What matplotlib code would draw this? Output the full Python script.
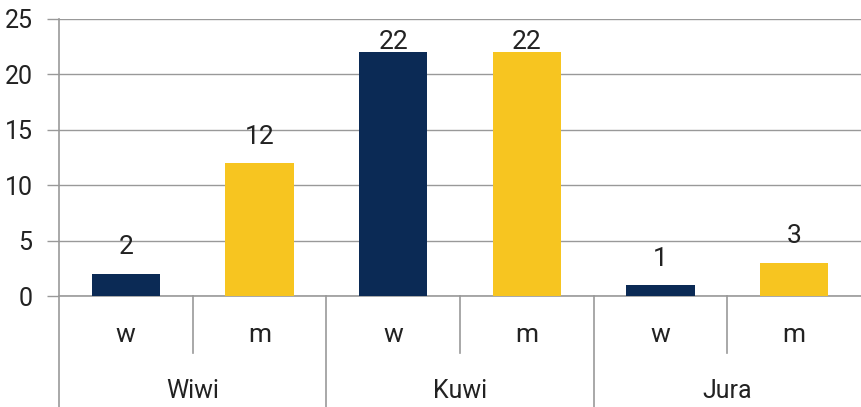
import matplotlib
matplotlib.use("Agg")
import matplotlib.pyplot as plt
from matplotlib.lines import Line2D

groups = ["Wiwi", "Kuwi", "Jura"]
subcats = ["w", "m"]
values = [2, 12, 22, 22, 1, 3]
colors_sub = {"w": "#0b2a55", "m": "#f7c520"}
yticks = [0, 5, 10, 15, 20, 25]

plt.rcParams['font.family'] = ["Roboto", "DejaVu Sans"]
txt = "#222222"
gridc = "#999999"

fig = plt.figure(figsize=(8.61, 4.07), dpi=100)
L, R, B, T = 59/861, 1.0, (407-296)/407, (407-19)/407
ax = fig.add_axes([L, B, R-L, T-B])

n = len(values)
xs = list(range(n))
cols = [colors_sub[subcats[i % 2]] for i in range(n)]
ax.bar(xs, values, width=0.51, color=cols, zorder=3)
for x, v in zip(xs, values):
    ax.text(x, min(v + 1.75, 22.3), str(v), ha="center", va="baseline",
            fontsize=19, color=txt, zorder=4)

ax.set_xlim(-0.5, n - 0.5)
ax.set_ylim(0, 25)
ax.set_yticks(yticks)
ax.set_yticklabels([str(t) for t in yticks], fontsize=18, color=txt)
ax.tick_params(axis="y", length=9, width=1, color=gridc, pad=10)
ax.yaxis.grid(True, color=gridc, linewidth=1, zorder=0)
ax.set_xticks([])
for s in ["top", "right", "left"]:
    ax.spines[s].set_visible(False)
ax.spines["bottom"].set_color(gridc)
ax.spines["bottom"].set_linewidth(1.2)

def fx(xd):
    return fig.transFigure.inverted().transform(ax.transData.transform((xd, 0)))[0]

fig.add_artist(Line2D([L, L], [0, T], color=gridc, linewidth=1.2))
for i in range(n):
    fig.text(fx(i), (407-335)/407, subcats[i % 2], ha="center", va="center",
             fontsize=19, color=txt)
for g in range(len(groups)):
    xc = fx(2*g + 0.5)
    fig.text(xc, (407-391)/407, groups[g], ha="center", va="center",
             fontsize=18, color=txt)
    fig.add_artist(Line2D([xc, xc], [(407-353)/407, B], color=gridc, linewidth=1.2))
    if g > 0:
        xb = fx(2*g - 0.5)
        fig.add_artist(Line2D([xb, xb], [0, B], color=gridc, linewidth=1.2))

fig.savefig("out.png", dpi=100)
